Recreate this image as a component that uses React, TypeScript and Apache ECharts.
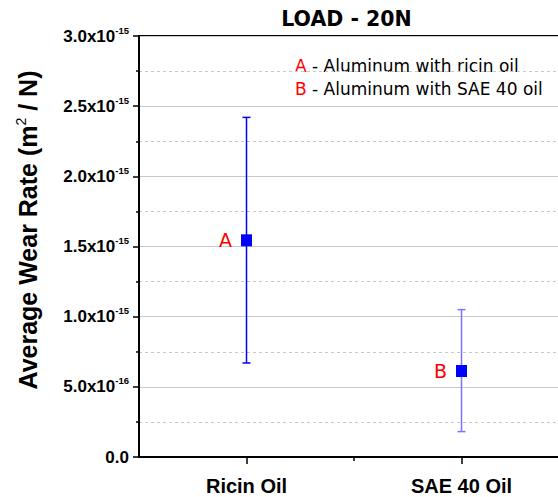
import React, { useEffect, useRef } from "react";
import * as echarts from "echarts";

const titleText = "LOAD - 20N";
const yAxisTitleMain = ["Average Wear Rate (m", " / N)"];
const yAxisTitleSup = "2";
const categories = ["Ricin Oil", "SAE 40 Oil"];
const categoryPositions = [1, 2];
const meanValues = [1.544e-15, 0.613e-15];
const lowerValues = [0.67e-15, 0.181e-15];
const upperValues = [2.42e-15, 1.05e-15];
const pointLabels = ["A", "B"];
const yTickMantissas = ["0.0", "5.0", "1.0", "1.5", "2.0", "2.5", "3.0"];
const yTickExponents = ["", "-16", "-15", "-15", "-15", "-15", "-15"];
const legendKeys = ["A", "B"];
const legendTexts = [" - Aluminum with ricin oil", " - Aluminum with SAE 40 oil"];

const errorColors = ["#0000ff", "#7474ff"];
const FONT = "'DejaVu Sans', Verdana, sans-serif";
const ARIAL = "'Liberation Sans', Arial, sans-serif";
const Y_STEP = 0.5e-15;

export default function App() {
  const ref = useRef<HTMLDivElement>(null);

  useEffect(() => {
    if (!ref.current) return;
    const chart = echarts.init(ref.current, undefined, { renderer: "svg" });

    const errorData = categoryPositions.map((x, i) => [x, lowerValues[i], upperValues[i]]);
    const meanData = categoryPositions.map((x, i) => [x, meanValues[i]]);

    const option: any = {
      animation: false,
      backgroundColor: "#ffffff",
      grid: {
        left: 139,
        top: 36,
        width: 430,
        height: 421,
        show: true,
        borderColor: "#000",
        borderWidth: 2,
      },
      xAxis: [
        {
          type: "value",
          min: 0.5,
          max: 2.5,
          interval: 0.5,
          splitLine: { show: false },
          axisLine: { show: true, onZero: false, lineStyle: { color: "#000", width: 2 } },
          axisTick: {
            show: true,
            customValues: [1, 2],
            length: 7,
            lineStyle: { color: "#000", width: 1.5 },
          },
          axisLabel: {
            customValues: categoryPositions,
            formatter: (v: number) => {
              const i = categoryPositions.indexOf(Math.round(v * 100) / 100);
              return i >= 0 ? categories[i] : "";
            },
            margin: 19,
            color: "#000",
            fontFamily: ARIAL,
            fontWeight: "bold",
            fontSize: 20,
          },
        },
        {
          type: "value",
          min: 0.5,
          max: 2.5,
          interval: 0.5,
          position: "bottom",
          splitLine: { show: false },
          axisLine: { show: false },
          axisLabel: { show: false },
          axisTick: {
            show: true,
            customValues: [1.5],
            length: 4,
            lineStyle: { color: "#000", width: 1.5 },
          },
        },
      ],
      yAxis: {
        type: "value",
        min: 0,
        max: 3e-15,
        interval: Y_STEP,
        axisLine: { show: true, lineStyle: { color: "#000", width: 2 } },
        axisTick: { show: true, length: 6, lineStyle: { color: "#000", width: 1.5 } },
        minorTick: { show: true, splitNumber: 2, length: 3, lineStyle: { color: "#000", width: 1.5 } },
        splitLine: { show: true, lineStyle: { color: "#c8c8c8", width: 1.2 } },
        minorSplitLine: { show: true, lineStyle: { color: "#c8c8c8", width: 1, type: [3, 3] } },
        axisLabel: {
          margin: 10,
          formatter: (v: number) => {
            const i = Math.round(v / Y_STEP);
            const exp = yTickExponents[i];
            return exp ? `{m|${yTickMantissas[i]}x10}{s|${exp}}` : `{m|${yTickMantissas[i]}}`;
          },
          rich: {
            m: {
              fontFamily: ARIAL,
              fontWeight: "bold",
              fontSize: 17,
              lineHeight: 22,
              color: "#000",
            },
            s: {
              fontFamily: ARIAL,
              fontWeight: "bold",
              fontSize: 9.5,
              lineHeight: 10,
              verticalAlign: "top",
              color: "#000",
            },
          },
        },
      },
      graphic: [
        {
          type: "text",
          x: 346.5,
          y: 18.5,
          style: {
            text: titleText,
            fontFamily: FONT,
            fontWeight: "bold",
            fontSize: 20.5,
            fill: "#000",
            textAlign: "center",
            textVerticalAlign: "middle",
          },
        },
        {
          type: "text",
          x: 27.5,
          y: 230,
          rotation: Math.PI / 2,
          style: {
            text: `{m|${yAxisTitleMain[0]}}{s|${yAxisTitleSup}}{m|${yAxisTitleMain[1]}}`,
            textAlign: "center",
            textVerticalAlign: "middle",
            rich: {
              m: { fontFamily: ARIAL, fontWeight: "bold", fontSize: 25, lineHeight: 28, fill: "#000" },
              s: { fontFamily: ARIAL, fontWeight: "normal", fontSize: 14, lineHeight: 14, verticalAlign: "top", fill: "#000" },
            },
          },
        },
        ...legendKeys.map((k, i) => ({
          type: "text",
          x: 295,
          y: 66 + i * 23,
          style: {
            text: `{k|${k}}{t|${legendTexts[i]}}`,
            textVerticalAlign: "middle",
            rich: {
              k: { fontFamily: FONT, fontSize: 17, fill: "#ff0000" },
              t: { fontFamily: FONT, fontSize: 17, fill: "#000" },
            },
          },
        })),
      ],
      series: [
        {
          type: "custom",
          xAxisIndex: 0,
          data: errorData,
          encode: { x: 0, y: [1, 2] },
          z: 2,
          renderItem: (params: any, api: any) => {
            const x = api.value(0);
            const lo = api.coord([x, api.value(1)]);
            const hi = api.coord([x, api.value(2)]);
            const color = errorColors[params.dataIndex];
            const hw = 4;
            const st = { stroke: color, lineWidth: 1.5 };
            return {
              type: "group",
              children: [
                { type: "line", shape: { x1: lo[0], y1: lo[1], x2: hi[0], y2: hi[1] }, style: st },
                { type: "line", shape: { x1: lo[0] - hw, y1: lo[1], x2: lo[0] + hw, y2: lo[1] }, style: st },
                { type: "line", shape: { x1: hi[0] - hw, y1: hi[1], x2: hi[0] + hw, y2: hi[1] }, style: st },
              ],
            };
          },
        },
        {
          type: "scatter",
          xAxisIndex: 0,
          data: meanData,
          symbol: "rect",
          symbolSize: [11, 12],
          z: 3,
          itemStyle: { color: "#0000ff", opacity: 1 },
          label: {
            show: true,
            position: "left",
            distance: 9,
            formatter: (p: any) => pointLabels[p.dataIndex],
            color: "#ff0000",
            fontFamily: FONT,
            fontSize: 19,
          },
        },
      ],
    };

    chart.setOption(option);
    return () => chart.dispose();
  }, []);

  return (
    <div style={{ position: "absolute", left: 0, top: 0, width: 558, height: 497, overflow: "hidden", background: "#fff" }}>
      <div ref={ref} style={{ width: 570, height: 497 }} />
    </div>
  );
}
